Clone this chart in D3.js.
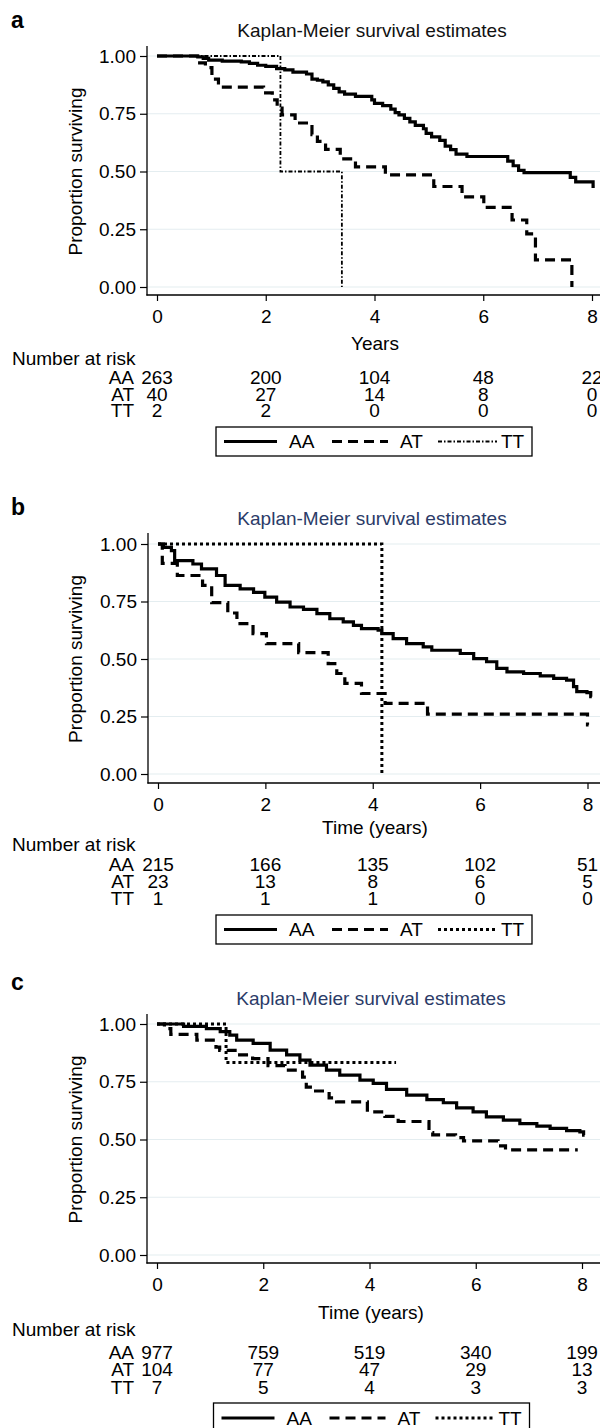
<!DOCTYPE html>
<html>
<head>
<meta charset="utf-8">
<script src="https://cdn.jsdelivr.net/npm/d3@7"></script>
<style>
  body { margin: 0; background: #fff; }
  svg text { font-family: "Liberation Sans", Arial, Helvetica, sans-serif; fill: #000; }
</style>
</head>
<body>
<svg id="chart"></svg>
<script>
// ---- data ----
const groups = ['AA', 'AT', 'TT'];
const yearTicks = [0, 2, 4, 6, 8];
const survTicks = [0, 0.25, 0.5, 0.75, 1];

// panel a: [years, proportion surviving]
const aAA = [[0,1],[0.75,0.996],[0.85,0.99],[0.95,0.982],[1.2,0.978],[1.55,0.975],[1.7,0.968],[1.85,0.96],[2.0,0.955],[2.2,0.945],[2.35,0.94],[2.5,0.93],[2.75,0.922],[2.85,0.9],[2.95,0.895],[3.05,0.888],[3.15,0.875],[3.25,0.86],[3.35,0.845],[3.45,0.835],[3.65,0.825],[3.95,0.81],[4.0,0.795],[4.15,0.785],[4.3,0.77],[4.38,0.755],[4.45,0.745],[4.55,0.73],[4.65,0.715],[4.75,0.7],[4.9,0.685],[4.95,0.665],[5.05,0.65],[5.2,0.635],[5.3,0.61],[5.4,0.595],[5.5,0.575],[5.7,0.565],[6.45,0.545],[6.55,0.525],[6.65,0.505],[6.75,0.495],[7.6,0.475],[7.7,0.455],[8.02,0.435],[8.05,0.435]];
const aAT = [[0,1],[0.74,0.97],[0.89,0.95],[1.01,0.9],[1.13,0.865],[1.96,0.84],[2.12,0.81],[2.21,0.775],[2.3,0.745],[2.54,0.71],[2.85,0.66],[2.95,0.63],[3.1,0.596],[3.37,0.555],[3.65,0.52],[4.2,0.485],[5.09,0.435],[5.61,0.39],[6.01,0.345],[6.53,0.29],[6.8,0.23],[6.96,0.117],[7.63,0]];
const aTT = [[0,1],[2.27,0.5],[3.4,0]];

// panel b
const bAA = [[0,1],[0.1,0.985],[0.25,0.971],[0.31,0.928],[0.65,0.913],[0.81,0.892],[1.09,0.863],[1.25,0.82],[1.53,0.805],[1.78,0.79],[1.99,0.769],[2.21,0.747],[2.46,0.726],[2.71,0.716],[2.96,0.697],[3.2,0.675],[3.45,0.661],[3.64,0.646],[3.79,0.632],[4.1,0.625],[4.17,0.61],[4.38,0.589],[4.63,0.567],[4.94,0.553],[5.1,0.538],[5.63,0.524],[5.88,0.502],[6.12,0.488],[6.31,0.459],[6.5,0.444],[6.81,0.437],[7.12,0.427],[7.37,0.416],[7.61,0.408],[7.74,0.38],[7.8,0.358],[7.99,0.354],[8.06,0.336],[8.08,0.336]];
const bAT = [[0,1],[0.08,0.916],[0.36,0.863],[0.83,0.82],[1.0,0.745],[1.3,0.70],[1.47,0.654],[1.77,0.61],[2.02,0.567],[2.62,0.528],[3.17,0.48],[3.33,0.437],[3.48,0.394],[3.79,0.35],[4.23,0.307],[5.02,0.26],[8.0,0.214],[8.02,0.214]];
const bTT = [[0,1],[4.17,0]];

// panel c
const cAA = [[0,1],[0.5,0.99],[0.93,0.98],[1.19,0.967],[1.37,0.952],[1.5,0.93],[1.81,0.916],[2.13,0.887],[2.44,0.866],[2.69,0.844],[2.88,0.822],[3.19,0.8],[3.44,0.779],[3.82,0.757],[4.07,0.743],[4.32,0.717],[4.7,0.692],[5.08,0.673],[5.39,0.659],[5.64,0.637],[5.95,0.62],[6.2,0.598],[6.52,0.584],[6.83,0.569],[7.15,0.558],[7.4,0.548],[7.71,0.538],[7.96,0.533],[8.03,0.519],[8.05,0.519]];
const cAT = [[0,1],[0.14,0.98],[0.26,0.955],[0.75,0.93],[1.11,0.9],[1.18,0.886],[1.47,0.866],[1.8,0.85],[2.09,0.82],[2.41,0.8],[2.74,0.77],[2.81,0.727],[2.95,0.71],[3.24,0.68],[3.38,0.663],[3.96,0.62],[4.29,0.6],[4.54,0.578],[5.12,0.53],[5.19,0.52],[5.62,0.508],[5.77,0.494],[6.42,0.472],[6.56,0.455],[7.92,0.455]];
const cTT = [[0,1],[1.3,0.833],[4.5,0.833]];

// numbers at risk at 0, 2, 4, 6, 8 years
const aRiskAA = [263, 200, 104, 48, 22];
const aRiskAT = [40, 27, 14, 8, 0];
const aRiskTT = [2, 2, 0, 0, 0];
const bRiskAA = [215, 166, 135, 102, 51];
const bRiskAT = [23, 13, 8, 6, 5];
const bRiskTT = [1, 1, 1, 0, 0];
const cRiskAA = [977, 759, 519, 340, 199];
const cRiskAT = [104, 77, 47, 29, 13];
const cRiskTT = [7, 5, 4, 3, 3];

// ---- layout ----
const W = 600, H = 1428;
const FONT = 19;
const gridColour = '#e4edf0';
const navy = '#2b3b68';

const panels = [
  { letter: 'a', letterY: 28, title: 'Kaplan-Meier survival estimates', titleColour: '#111', titleX: 372, titleY: 37,
    xLabel: 'Years', xLabelX: 375, xLabelY: 343,
    x0: 157, x8: 592, y1: 56, y0: 287, axisX: 147, axisY: 295, axisTop: 46,
    narY: 358, rowY: [377, 394, 410], legendX: 216, legendTop: 427, legendBottom: 456,
    curves: [aAA, aAT, aTT], risk: [aRiskAA, aRiskAT, aRiskTT], ttStyle: 'dashdot' },
  { letter: 'b', letterY: 515, title: 'Kaplan-Meier survival estimates', titleColour: navy, titleX: 372, titleY: 525,
    xLabel: 'Time (years)', xLabelX: 375, xLabelY: 827,
    x0: 158, x8: 587.5, y1: 544, y0: 774, axisX: 148, axisY: 783, axisTop: 533,
    narY: 844, rowY: [864, 881, 898], legendX: 216, legendTop: 915, legendBottom: 944,
    curves: [bAA, bAT, bTT], risk: [bRiskAA, bRiskAT, bRiskTT], ttStyle: 'dot' },
  { letter: 'c', letterY: 990, title: 'Kaplan-Meier survival estimates', titleColour: navy, titleX: 371, titleY: 1005,
    xLabel: 'Time (years)', xLabelX: 371, xLabelY: 1312,
    x0: 157, x8: 582, y1: 1024, y0: 1255, axisX: 147, axisY: 1263, axisTop: 1014,
    narY: 1329, rowY: [1352, 1369, 1387], legendX: 213.5, legendTop: 1403, legendBottom: 1433,
    curves: [cAA, cAT, cTT], risk: [cRiskAA, cRiskAT, cRiskTT], ttStyle: 'dot' }
];

const lineStyles = {
  AA: { width: 3.2, dash: null },
  AT: { width: 3.2, dash: '10,6' },
  dashdot: { width: 1.8, dash: '4,2,1.5,2' },
  dot: { width: 3, dash: '3,3' }
};

const svg = d3.select('#chart').attr('width', W).attr('height', H);
svg.append('rect').attr('width', W).attr('height', H).attr('fill', '#fff');

function styleFor(p, i) {
  if (i === 0) return lineStyles.AA;
  if (i === 1) return lineStyles.AT;
  return lineStyles[p.ttStyle];
}

panels.forEach(p => {
  const g = svg.append('g');

  const x = d3.scaleLinear().domain([0, 8]).range([p.x0, p.x8]);
  const y = d3.scaleLinear().domain([0, 1]).range([p.y0, p.y1]);

  // panel letter
  g.append('text').attr('x', 11).attr('y', p.letterY)
    .style('font-size', '23px').style('font-weight', 'bold').text(p.letter);

  // title
  g.append('text').attr('x', p.titleX).attr('y', p.titleY)
    .attr('text-anchor', 'middle').style('font-size', FONT + 'px')
    .style('fill', p.titleColour).text(p.title);

  // grid lines
  g.selectAll('.grid').data(survTicks).join('line')
    .attr('x1', p.axisX).attr('x2', W)
    .attr('y1', d => y(d)).attr('y2', d => y(d))
    .attr('stroke', gridColour).attr('stroke-width', 1.2);

  // axes
  const yAxis = d3.axisLeft(y).tickValues(survTicks)
    .tickFormat(d3.format('.2f')).tickSize(7).tickPadding(4);
  const yg = g.append('g').attr('transform', `translate(${p.axisX},0)`).call(yAxis);
  yg.select('.domain').remove();
  yg.selectAll('text').style('font-size', FONT + 'px')
    .style('font-family', '"Liberation Sans", Arial, sans-serif').attr('fill', '#000');
  yg.selectAll('line').attr('stroke', '#000').attr('stroke-width', 1.2);

  const xAxis = d3.axisBottom(x).tickValues(yearTicks).tickSize(6).tickPadding(9);
  const xg = g.append('g').attr('transform', `translate(0,${p.axisY})`).call(xAxis);
  xg.select('.domain').remove();
  xg.selectAll('text').style('font-size', FONT + 'px')
    .style('font-family', '"Liberation Sans", Arial, sans-serif').attr('fill', '#000');
  xg.selectAll('line').attr('stroke', '#000').attr('stroke-width', 1.2);

  g.append('line').attr('x1', p.axisX).attr('x2', p.axisX)
    .attr('y1', p.axisTop).attr('y2', p.axisY + 0.6)
    .attr('stroke', '#000').attr('stroke-width', 1.3);
  g.append('line').attr('x1', p.axisX - 0.6).attr('x2', W)
    .attr('y1', p.axisY).attr('y2', p.axisY)
    .attr('stroke', '#000').attr('stroke-width', 1.3);

  // axis titles
  g.append('text')
    .attr('transform', `translate(${75},${(p.y0 + p.y1) / 2}) rotate(-90)`)
    .attr('text-anchor', 'middle').attr('dy', '0.35em')
    .style('font-size', FONT + 'px').text('Proportion surviving');
  g.append('text').attr('x', p.xLabelX).attr('y', p.xLabelY)
    .attr('text-anchor', 'middle').attr('dy', '0.35em')
    .style('font-size', FONT + 'px').text(p.xLabel);

  // survival curves
  const line = d3.line().x(d => x(d[0])).y(d => y(d[1])).curve(d3.curveStepAfter);
  p.curves.forEach((c, i) => {
    const st = styleFor(p, i);
    g.append('path').datum(c).attr('d', line)
      .attr('fill', 'none').attr('stroke', '#000')
      .attr('stroke-width', st.width)
      .attr('stroke-dasharray', st.dash)
      .attr('stroke-linejoin', 'miter');
  });

  // number at risk table
  g.append('text').attr('x', 12).attr('y', p.narY).attr('dy', '0.35em')
    .style('font-size', FONT + 'px').text('Number at risk');
  groups.forEach((grp, i) => {
    g.append('text').attr('x', 134).attr('y', p.rowY[i]).attr('dy', '0.35em')
      .attr('text-anchor', 'end').style('font-size', FONT + 'px').text(grp);
    g.selectAll(null).data(p.risk[i]).join('text')
      .attr('x', (d, j) => x(yearTicks[j])).attr('y', p.rowY[i]).attr('dy', '0.35em')
      .attr('text-anchor', 'middle').style('font-size', FONT + 'px').text(d => d);
  });

  // legend
  const lx = p.legendX;
  const ly = (p.legendTop + p.legendBottom) / 2;
  g.append('rect').attr('x', lx).attr('y', p.legendTop)
    .attr('width', 316).attr('height', p.legendBottom - p.legendTop)
    .attr('fill', '#fff').attr('stroke', '#000').attr('stroke-width', 1.3);
  const sampleX = [[8, 61], [116, 172], [222, 281]];
  const labelX = [73, 184, 285];
  groups.forEach((grp, i) => {
    const st = styleFor(p, i);
    g.append('line').attr('x1', lx + sampleX[i][0]).attr('x2', lx + sampleX[i][1])
      .attr('y1', ly).attr('y2', ly).attr('stroke', '#000')
      .attr('stroke-width', st.width).attr('stroke-dasharray', st.dash);
    g.append('text').attr('x', lx + labelX[i]).attr('y', ly).attr('dy', '0.35em')
      .style('font-size', FONT + 'px').text(grp);
  });
});
</script>
</body>
</html>
